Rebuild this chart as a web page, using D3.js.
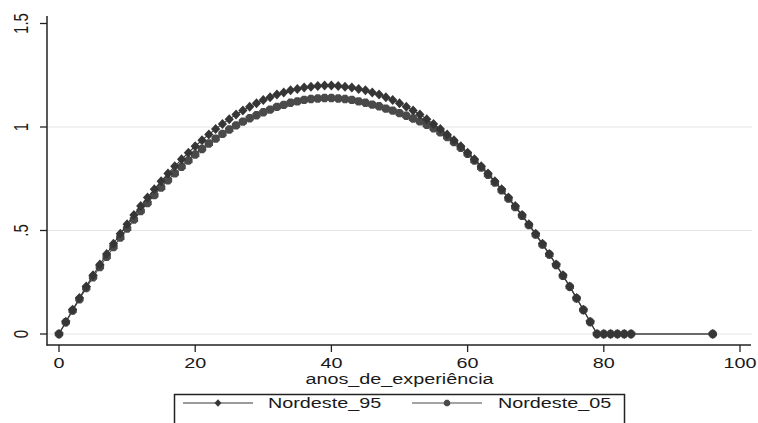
<!DOCTYPE html>
<html>
<head>
<meta charset="utf-8">
<script src="https://cdn.jsdelivr.net/npm/d3@7"></script>
<style>
  html, body { margin: 0; padding: 0; background: #fff; }
  svg { display: block; }
  text { font-family: "Liberation Sans", Arial, sans-serif; fill: #1a1a1a; }
</style>
</head>
<body>
<svg id="chart" width="758" height="423"></svg>
<script>
// ---- data ----
const experience = [0,1,2,3,4,5,6,7,8,9,10,11,12,13,14,15,16,17,18,19,20,21,22,23,24,25,26,27,28,29,
  30,31,32,33,34,35,36,37,38,39,40,41,42,43,44,45,46,47,48,49,50,51,52,53,54,55,56,57,58,59,
  60,61,62,63,64,65,66,67,68,69,70,71,72,73,74,75,76,77,78,79,80,81,82,83,84,96];

const nordeste95 = [0,0.059,0.117,0.174,0.230,0.284,0.336,0.387,0.436,0.484,0.530,0.575,0.618,0.659,0.699,
  0.738,0.775,0.810,0.844,0.876,0.907,0.936,0.964,0.990,1.015,1.038,1.060,1.080,1.098,1.115,
  1.131,1.144,1.157,1.167,1.177,1.184,1.191,1.195,1.198,1.200,1.200,1.198,1.195,1.191,1.184,
  1.177,1.167,1.157,1.144,1.131,1.115,1.098,1.080,1.060,1.038,1.015,0.990,0.964,0.936,0.907,
  0.876,0.844,0.810,0.775,0.738,0.699,0.659,0.618,0.575,0.530,0.484,0.436,0.387,0.336,0.284,
  0.230,0.174,0.117,0.059,0,0,0,0,0,0,0];

const nordeste05 = [0,0.057,0.113,0.168,0.222,0.274,0.324,0.373,0.420,0.466,0.510,0.553,0.594,0.633,0.671,
  0.708,0.743,0.776,0.808,0.838,0.867,0.894,0.920,0.944,0.967,0.988,1.008,1.026,1.042,1.057,
  1.071,1.084,1.097,1.107,1.117,1.124,1.131,1.135,1.138,1.140,1.140,1.138,1.135,1.131,1.124,
  1.117,1.108,1.100,1.089,1.079,1.067,1.054,1.041,1.027,1.011,0.994,0.974,0.952,0.927,0.900,
  0.870,0.838,0.804,0.769,0.732,0.694,0.654,0.613,0.571,0.526,0.480,0.432,0.384,0.333,0.281,
  0.228,0.172,0.116,0.058,0,0,0,0,0,0,0];

const xTicks = [0,20,40,60,80,100];
const yTicks = [0,0.5,1,1.5];
const yTickLabels = ["0",".5","1","1.5"];
const gridValues = [0,0.5,1];
const seriesNames = ["Nordeste_95","Nordeste_05"];
const xTitle = "anos_de_experiência";

// ---- drawing ----
const svg = d3.select("#chart");
const x = d3.scaleLinear().domain([0,100]).range([59,740]);
const y = d3.scaleLinear().domain([0,1.5]).range([334,23.5]);
const STRETCH = 1.32;
const FS = 15;

function stext(g, str, tx, ty, anchor, rotate) {
  return g.append("text")
    .attr("transform", `translate(${tx},${ty}) scale(${STRETCH},1)` + (rotate ? ` rotate(${rotate})` : ""))
    .attr("text-anchor", anchor)
    .attr("font-size", FS)
    .text(str);
}

// gridlines
svg.append("g").selectAll("line").data(gridValues).join("line")
  .attr("x1", 48).attr("x2", 752)
  .attr("y1", d => y(d)).attr("y2", d => y(d))
  .attr("stroke", "#e6e6e6").attr("stroke-width", 1.2);

// axes lines
const axisColor = "#222";
svg.append("line").attr("x1", 47).attr("x2", 47).attr("y1", 16).attr("y2", 345.5)
  .attr("stroke", axisColor).attr("stroke-width", 1.5);
svg.append("line").attr("x1", 46.5).attr("x2", 751).attr("y1", 345).attr("y2", 345)
  .attr("stroke", axisColor).attr("stroke-width", 1.5);

// y ticks & labels
svg.append("g").selectAll("line").data(yTicks).join("line")
  .attr("x1", 40).attr("x2", 47)
  .attr("y1", d => y(d)).attr("y2", d => y(d))
  .attr("stroke", axisColor).attr("stroke-width", 1.3);
const yl = svg.append("g");
yTicks.forEach((t, i) => stext(yl, yTickLabels[i], 28, y(t), "middle", -90));

// x ticks & labels
svg.append("g").selectAll("line").data(xTicks).join("line")
  .attr("x1", d => x(d)).attr("x2", d => x(d))
  .attr("y1", 345).attr("y2", 352)
  .attr("stroke", axisColor).attr("stroke-width", 1.3);
const xl = svg.append("g");
xTicks.forEach(t => stext(xl, String(t), x(t), 368, "middle"));
stext(svg, xTitle, (x(0)+x(100))/2, 384, "middle");

// series
const diamond = "M0,-5L4.6,0L0,5L-4.6,0Z";
const octagon = "M-1.8,-4.2L1.8,-4.2L4.2,-1.8L4.2,1.8L1.8,4.2L-1.8,4.2L-4.2,1.8L-4.2,-1.8Z";
const colors = ["#363636", "#4a4a4a"];
const shapes = [diamond, octagon];
const seriesData = [nordeste95, nordeste05].map(vals => experience.map((e, i) => [e, vals[i]]));
const line = d3.line().x(d => x(d[0])).y(d => y(d[1]));

function drawSeries(idx) {
  const g = svg.append("g");
  g.append("path").attr("d", line(seriesData[idx]))
    .attr("fill", "none").attr("stroke", colors[idx]).attr("stroke-width", 1.1);
  g.selectAll("path.m").data(seriesData[idx]).join("path").attr("class", "m")
    .attr("d", shapes[idx])
    .attr("transform", d => `translate(${x(d[0])},${y(d[1])})`)
    .attr("fill", colors[idx]);
}
drawSeries(1);
drawSeries(0);

// legend
const lg = svg.append("g");
lg.append("rect").attr("x", 174.5).attr("y", 394.5).attr("width", 450).attr("height", 40)
  .attr("fill", "#fff").attr("stroke", "#222").attr("stroke-width", 1.5);
const entries = [
  {x1: 183, x2: 253, tx: 268},
  {x1: 412, x2: 482, tx: 498}
];
entries.forEach((e, i) => {
  lg.append("line").attr("x1", e.x1).attr("x2", e.x2).attr("y1", 403).attr("y2", 403)
    .attr("stroke", colors[i]).attr("stroke-width", 1.1);
  const cx = (e.x1 + e.x2) / 2;
  lg.append("path").attr("d", shapes[i]).attr("transform", `translate(${cx},403) scale(0.75)`)
    .attr("fill", colors[i]);
  stext(lg, seriesNames[i], e.tx, 408, "start");
});
</script>
</body>
</html>
